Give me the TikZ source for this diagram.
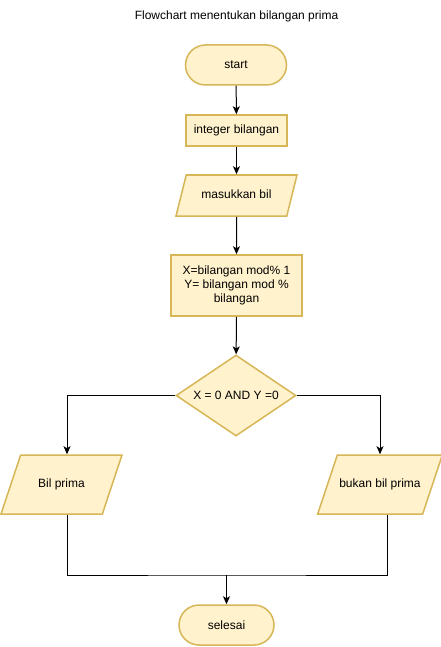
\documentclass[tikz,border=0pt]{standalone}
\usepackage{fontspec}
\setmainfont{Liberation Sans}
\usetikzlibrary{shapes.geometric}
\usetikzlibrary{arrows.meta}
\definecolor{boxfill}{HTML}{FFF2CC}
\definecolor{boxline}{HTML}{D6B656}

\begin{document}
\begin{tikzpicture}[x=1pt,y=-1pt,
         every node/.style = {font=\fontsize{12}{14}\selectfont},
         shape base/.style = {draw=boxline,fill=boxfill,line width=1.5pt,inner sep=2pt},
         terminal/.style = {shape base,rectangle,rounded corners=20pt,minimum height=40pt},
         process/.style = {shape base,rectangle,minimum width=131pt},
         io/.style = {shape base,trapezium,trapezium stretches body,
            text height=9pt,text depth=3pt,inner xsep=2pt,
            trapezium left angle=#1,trapezium right angle=180-#1},
         decision/.style = {shape base,diamond,aspect=1.48,minimum width=120pt,minimum height=81pt,inner sep=0pt},
         line/.style = {draw,line width=1pt},
         arrow/.style = {line,-{Stealth[length=8pt,width=7pt,inset=2pt]}}
]
      \useasboundingbox (0,0) rectangle (441,647);

      \node (title) at (236.5,16) {Flowchart menentukan bilangan prima};

      \node[terminal,minimum width=101pt] (start) at (236,65) {start};
      \node[process,minimum width=101pt,minimum height=31pt] (intb) at (236.5,130.5) {integer bilangan};
      \node[io=76,minimum width=121pt,inner ysep=14.5pt] (inp) at (236.5,195.5) {masukkan bil};
      \node[process,minimum height=61pt,align=center] (proc) at (236.5,285.5)
         {X=bilangan mod\% 1\\Y= bilangan mod \%\\bilangan};
      \node[decision] (dec) at (236,395.5) {X = 0 AND Y =0};
      \node[io=71.6,minimum width=121pt,inner ysep=23.5pt] (prima) at (61.5,484.5) {Bil prima};
      \node[io=71.6,minimum width=120pt,inner ysep=23.5pt] (bukan) at (380,484.5) {bukan bil prima};
      \node[terminal,minimum width=95pt] (stop) at (226.5,625) {selesai};
      \coordinate (mrg) at (226.5,575);

      \draw[arrow] (start) -- (intb);
      \draw[arrow] (intb) -- (inp);
      \draw[arrow] (inp) -- (proc);
      \draw[arrow] (proc) -- (dec);
      \draw[arrow] (dec.west) -| ([xshift=5.5pt]prima.north);
      \draw[arrow] (dec.east) -| (bukan.north);
      \draw[line] ([xshift=5.5pt]prima.south) |- (mrg) -| ([xshift=7pt]bukan.south);
      \draw[arrow] (mrg) -- (stop);
   \end{tikzpicture}
\end{document}
